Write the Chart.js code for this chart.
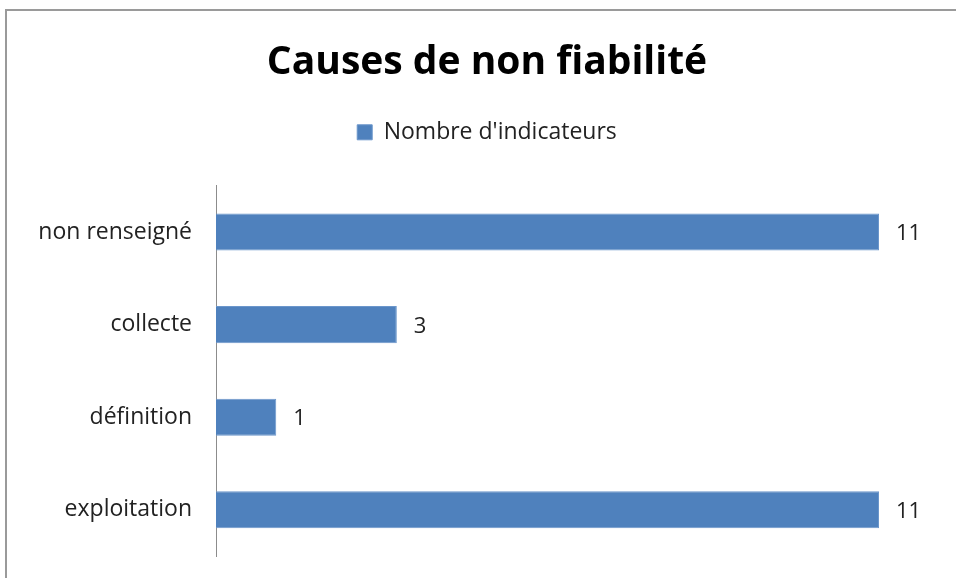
<!DOCTYPE html>
<html>
<head>
<meta charset="utf-8">
<script src="https://cdn.jsdelivr.net/npm/chart.js@4"></script>
<style>
  html, body { margin: 0; padding: 0; background: #fff; }
  #wrap { position: relative; width: 956px; height: 578px; overflow: hidden; }
  #frame { position: absolute; left: 5px; top: 9px; width: 1000px; height: 700px;
           border-left: 2px solid #9a9a9a; border-top: 2px solid #9a9a9a; }
  canvas { position: absolute; left: 0; top: 0; }
</style>
</head>
<body>
<div id="wrap">
  <div id="frame"></div>
  <canvas id="chart" width="956" height="578"></canvas>
</div>
<script>
{
  const categories = ['non renseigné', 'collecte', 'définition', 'exploitation'];
  const counts = [11, 3, 1, 11];
  const seriesName = "Nombre d'indicateurs";

  // value labels at the end of each bar
  const valueLabels = {
    id: 'valueLabels',
    afterDatasetsDraw(chart) {
      const ctx = chart.ctx;
      const meta = chart.getDatasetMeta(0);
      ctx.save();
      ctx.font = '22px "Open Sans", sans-serif';
      ctx.fillStyle = '#222';
      ctx.textBaseline = 'middle';
      meta.data.forEach((bar, i) => {
        ctx.fillText(counts[i], bar.x + 17, bar.y + 2);
      });
      ctx.restore();
    }
  };

  const ctx = document.getElementById('chart').getContext('2d');
  new Chart(ctx, {
    type: 'bar',
    data: {
      labels: categories,
      datasets: [{
        label: seriesName,
        data: counts,
        backgroundColor: '#4f81bd',
        borderColor: '#6b96cb',
        borderWidth: 1,
        barPercentage: 0.4,
        categoryPercentage: 1.0
      }]
    },
    options: {
      indexAxis: 'y',
      responsive: false,
      animation: false,
      layout: { padding: { top: 39, right: 0, bottom: 22, left: 18 } },
      plugins: {
        title: {
          display: true,
          text: 'Causes de non fiabilité',
          color: '#000',
          font: { family: 'Open Sans', size: 39, weight: 'bold' },
          padding: { top: 0, bottom: 25 }
        },
        legend: {
          display: true,
          labels: {
            color: '#222',
            font: { family: 'Open Sans', size: 23 },
            boxWidth: 15,
            boxHeight: 15,
            padding: 10
          }
        },
        tooltip: { enabled: false }
      },
      scales: {
        x: {
          position: 'top',
          min: 0,
          max: 11,
          afterFit(axis) { axis.height = 32; },
          grid: { display: false, drawTicks: false },
          border: { display: false },
          ticks: { display: false }
        },
        y: {
          afterFit(axis) {
            axis.width = 198;
            axis.paddingTop = 0;
            axis.paddingBottom = 0;
          },
          grid: { display: false, drawTicks: false },
          border: { display: true, color: '#8c8c8c', width: 1 },
          ticks: {
            color: '#222',
            padding: 24,
            font: { family: 'Open Sans', size: 23 }
          }
        },
        // empty right side space for the value labels
        yRight: {
          type: 'category',
          position: 'right',
          labels: categories,
          afterFit(axis) {
            axis.width = 77;
            axis.paddingTop = 0;
            axis.paddingBottom = 0;
          },
          grid: { display: false, drawTicks: false },
          border: { display: false },
          ticks: { display: false }
        }
      }
    },
    plugins: [valueLabels]
  });
}
</script>
</body>
</html>
